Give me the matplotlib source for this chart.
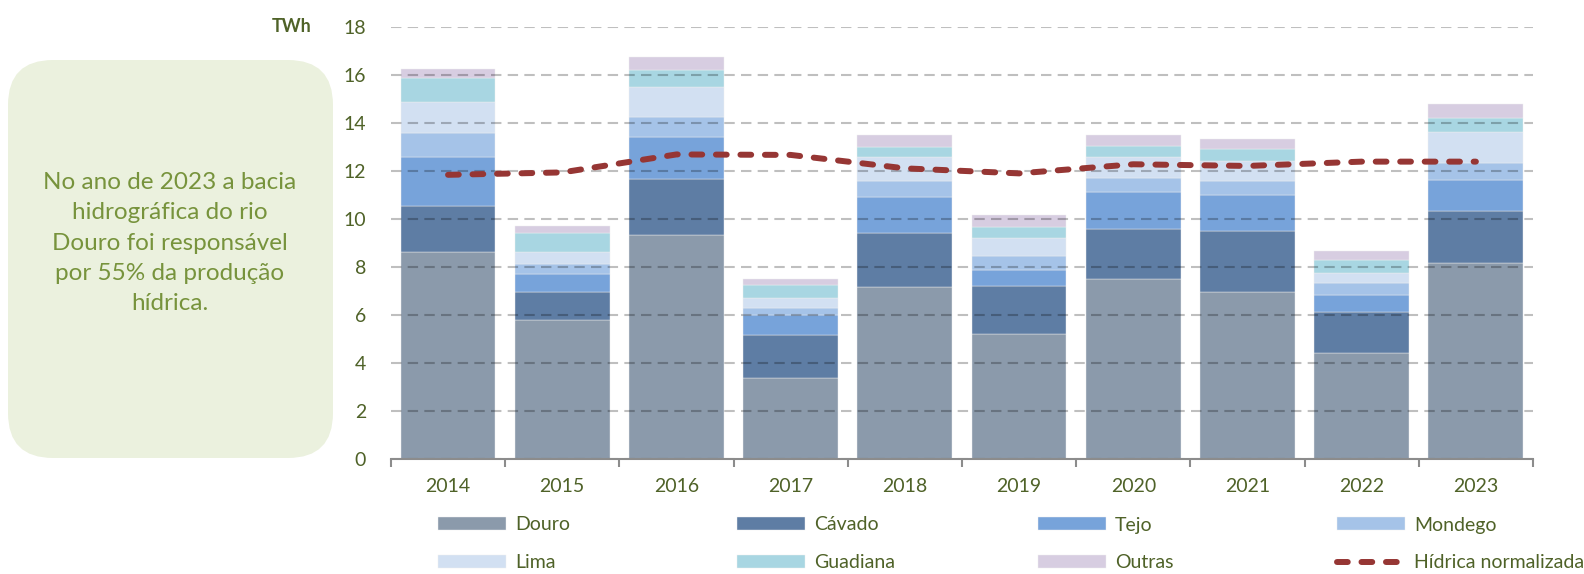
import matplotlib
matplotlib.use("Agg")
import matplotlib.pyplot as plt
from matplotlib.patches import FancyBboxPatch
import numpy as np

plt.rcParams['font.family'] = ['Lato', 'DejaVu Sans']

years = ['2014', '2015', '2016', '2017', '2018', '2019', '2020', '2021', '2022', '2023']
douro = [8.62, 5.80, 9.33, 3.38, 7.17, 5.21, 7.51, 6.96, 4.43, 8.16]
cavado = [1.94, 1.18, 2.34, 1.80, 2.27, 2.02, 2.09, 2.56, 1.69, 2.18]
tejo = [2.03, 0.75, 1.76, 0.84, 1.48, 0.66, 1.53, 1.50, 0.72, 1.29]
mondego = [1.02, 0.40, 0.84, 0.28, 0.66, 0.57, 0.57, 0.57, 0.50, 0.71]
lima = [1.26, 0.50, 1.24, 0.40, 1.01, 0.75, 0.89, 0.85, 0.43, 1.29]
guadiana = [1.03, 0.79, 0.72, 0.57, 0.43, 0.48, 0.47, 0.49, 0.54, 0.59]
outras = [0.38, 0.28, 0.53, 0.25, 0.48, 0.47, 0.46, 0.40, 0.36, 0.60]
hidrica_norm = [11.85, 11.95, 12.70, 12.68, 12.12, 11.91, 12.29, 12.22, 12.40, 12.40]

series = [douro, cavado, tejo, mondego, lima, guadiana, outras]
names = ['Douro', 'Cávado', 'Tejo', 'Mondego', 'Lima', 'Guadiana', 'Outras']
colors = ['#8b9aab', '#5e7da4', '#77a3da', '#a5c3e8', '#d2e0f2', '#a8d6e2', '#d7cde1']

green = '#4f6228'

fig = plt.figure(figsize=(15.84, 5.74), dpi=100)
ax = fig.add_axes([0.2468, 0.2003, 0.7210, 0.7521])

x = np.arange(len(years))
bottom = np.zeros(len(years))
bars = []
for vals, name, c in zip(series, names, colors):
    b = ax.bar(x, vals, 0.83, bottom=bottom, color=c, edgecolor='#f0f0f0',
               linewidth=0.3, label=name, zorder=2)
    bars.append(b)
    bottom += np.array(vals)

line, = ax.plot(x, hidrica_norm, color='#963634', lw=4.3, dashes=(1.8, 2.3),
                dash_capstyle='round', zorder=4, label='Hídrica normalizada')

ax.set_xlim(-0.5, len(years) - 0.5)
ax.set_ylim(0, 18)
ax.set_yticks(range(0, 19, 2))
ax.yaxis.grid(True, color='black', alpha=0.25, lw=1.5, dashes=(5, 3), zorder=3)
ax.set_axisbelow(False)
ax.set_xticks(x)
ax.set_xticklabels(years)
ax.set_xticks(np.arange(-0.5, len(years), 1), minor=True)
ax.tick_params(axis='x', which='major', length=0, pad=14, labelsize=14, labelcolor=green)
ax.tick_params(axis='x', which='minor', length=6, width=1.5, color='#8c8c8c')
ax.tick_params(axis='y', length=0, pad=18, labelsize=14, labelcolor=green)
for s in ['top', 'right', 'left']:
    ax.spines[s].set_visible(False)
ax.spines['bottom'].set_color('#8c8c8c')
ax.spines['bottom'].set_linewidth(1.5)
ax.spines['bottom'].set_zorder(5)

fig.text(292 / 1584, 1 - 27 / 574, 'TWh', fontsize=13, fontweight='bold',
         color=green, ha='center', va='center')

# caixa de texto à esquerda
box = FancyBboxPatch((0.08, 1.16), 3.25, 3.98, boxstyle='round,pad=0,rounding_size=0.45',
                     transform=fig.dpi_scale_trans, facecolor='#ebf1de', edgecolor='none')
fig.patches.append(box)
fig.text(170 / 1584, 1 - 243 / 574,
         'No ano de 2023 a bacia\nhidrográfica do rio\nDouro foi responsável\npor 55% da produção\nhídrica.',
         fontsize=17.5, color='#77933c', ha='center', va='center', linespacing=1.55)

# legenda em 4 colunas x 2 linhas
handles = bars + [line]
labels = names + ['Hídrica normalizada']
col_x = [438, 737, 1038, 1337]
row_y = [525, 563]
for i, (h, lab) in enumerate(zip(handles, labels)):
    r, c = divmod(i, 4)
    fig.legend([h], [lab], loc='center left',
               bbox_to_anchor=(col_x[c] / 1584, 1 - row_y[r] / 574),
               frameon=False, fontsize=14, labelcolor=green,
               handlelength=3.5, handleheight=0.68, handletextpad=0.45,
               borderpad=0, borderaxespad=0)

fig.savefig('out.png', dpi=100)
